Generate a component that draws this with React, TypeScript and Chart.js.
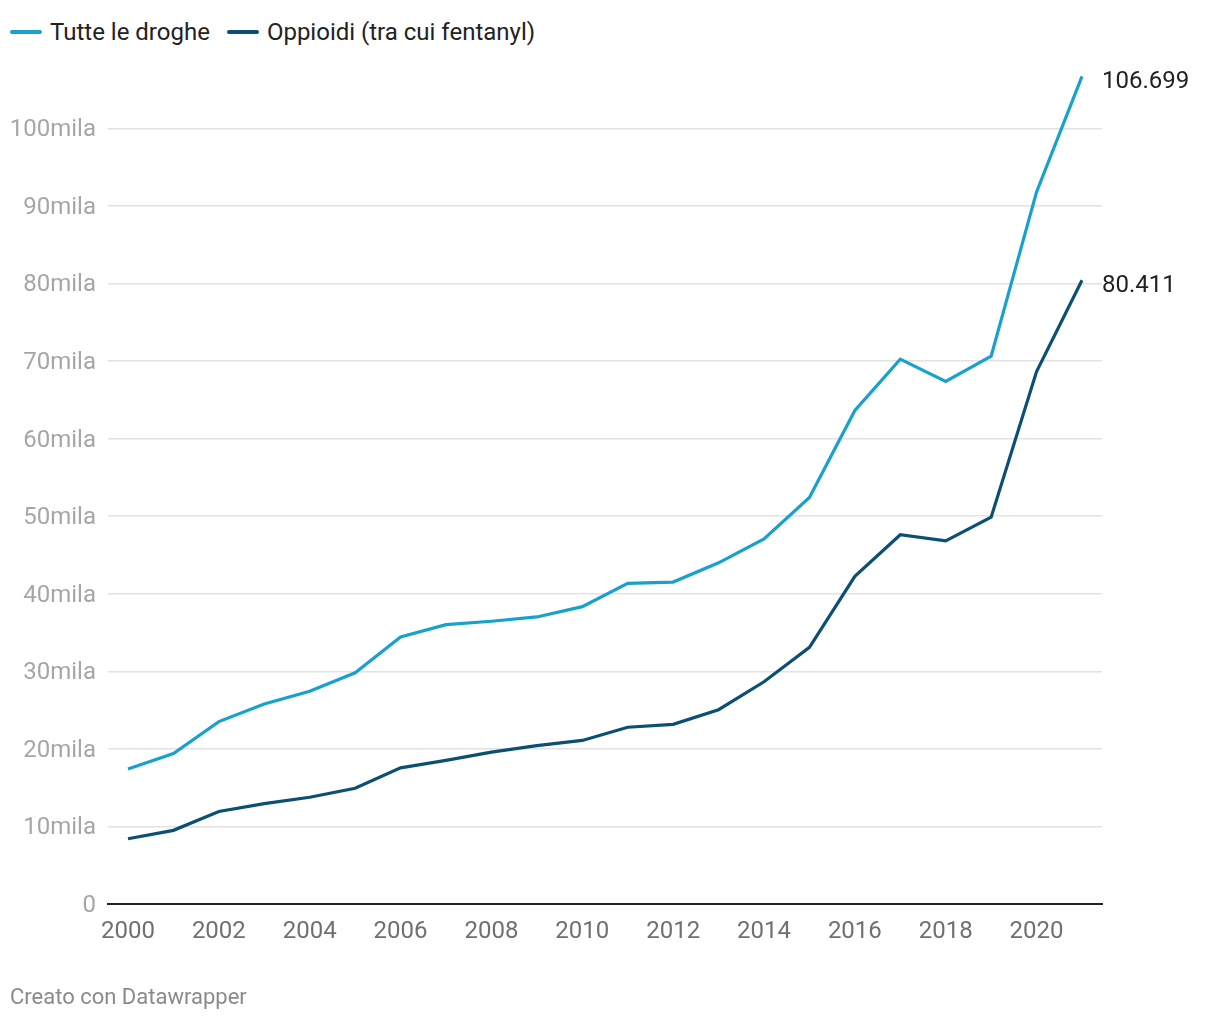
import React, { useEffect, useRef } from "react";
import { Chart, registerables } from "chart.js";

Chart.register(...registerables);

const years = [2000, 2001, 2002, 2003, 2004, 2005, 2006, 2007, 2008, 2009, 2010, 2011, 2012, 2013, 2014, 2015, 2016, 2017, 2018, 2019, 2020, 2021];
const allDrugs = [17.415, 19.394, 23.518, 25.785, 27.424, 29.813, 34.425, 36.01, 36.45, 37.004, 38.329, 41.34, 41.502, 43.982, 47.055, 52.404, 63.632, 70.237, 67.367, 70.63, 91.799, 106.699];
const opioids = [8.407, 9.496, 11.92, 12.94, 13.756, 14.918, 17.545, 18.516, 19.582, 20.422, 21.089, 22.784, 23.166, 25.052, 28.647, 33.091, 42.249, 47.6, 46.802, 49.86, 68.63, 80.411];
const seriesNames = ["Tutte le droghe", "Oppioidi (tra cui fentanyl)"];
const seriesColors = ["#18a1cd", "#0b4f72"];
const endLabels = ["106.699", "80.411"];
const xTicks = [2000, 2002, 2004, 2006, 2008, 2010, 2012, 2014, 2016, 2018, 2020];
const yTicks = [0, 10, 20, 30, 40, 50, 60, 70, 80, 90, 100];

const FONT = "Roboto, 'Noto Sans', sans-serif";

export default function App() {
  const ref = useRef<HTMLCanvasElement>(null);

  useEffect(() => {
    if (!ref.current) return;
    const endLabelPlugin = {
      id: "endLabels",
      afterDatasetsDraw(chart: any) {
        const ctx = chart.ctx;
        ctx.save();
        ctx.font = `24px ${FONT}`;
        ctx.fillStyle = "#222";
        ctx.textBaseline = "middle";
        ctx.textAlign = "left";
        chart.data.datasets.forEach((ds: any, i: number) => {
          const meta = chart.getDatasetMeta(i);
          const pt = meta.data[meta.data.length - 1];
          ctx.fillText(endLabels[i], pt.x + 20, pt.y + 6);
        });
        ctx.restore();
      },
    };

    const chart = new Chart(ref.current, {
      type: "line",
      data: {
        datasets: [
          {
            label: seriesNames[0],
            data: years.map((y, i) => ({ x: y, y: allDrugs[i] })),
            borderColor: seriesColors[0],
            borderWidth: 3.2,
            pointRadius: 0,
            tension: 0,
          },
          {
            label: seriesNames[1],
            data: years.map((y, i) => ({ x: y, y: opioids[i] })),
            borderColor: seriesColors[1],
            borderWidth: 3.2,
            pointRadius: 0,
            tension: 0,
          },
        ],
      },
      options: {
        responsive: false,
        animation: false,
        layout: { padding: { left: 0, right: 118, top: 74, bottom: 0 } },
        plugins: { legend: { display: false }, tooltip: { enabled: false } },
        scales: {
          x: {
            type: "linear",
            min: 2000 - 20 / 45.43,
            max: 2021 + 20 / 45.43,
            afterBuildTicks: (s: any) => {
              s.ticks = xTicks.map((v) => ({ value: v }));
            },
            afterFit: (s: any) => {
              s.height = 116;
            },
            grid: { display: false, drawTicks: false },
            border: { display: true, color: "#222", width: 2 },
            ticks: {
              padding: 14,
              color: "#707070",
              font: { family: FONT, size: 24 },
              maxRotation: 0,
              autoSkip: false,
              callback: (v: any) => String(v),
            },
          },
          y: {
            min: 0,
            max: 107,
            afterBuildTicks: (s: any) => {
              s.ticks = yTicks.map((v) => ({ value: v }));
            },
            afterFit: (s: any) => {
              s.width = 108;
            },
            grid: {
              color: (c: any) => (c.tick && c.tick.value === 0 ? "rgba(0,0,0,0)" : "#e2e2e2"),
              lineWidth: 1.5,
              drawTicks: false,
            },
            border: { display: false },
            ticks: {
              padding: 12,
              labelOffset: 2,
              color: "#a6a6a6",
              font: { family: FONT, size: 24 },
              callback: (v: any) => (v === 0 ? "0" : `${v}mila`),
            },
          },
        },
      },
      plugins: [endLabelPlugin],
    });
    return () => chart.destroy();
  }, []);

  return (
    <div style={{ position: "absolute", left: 0, top: 0, width: 1220, height: 1020, background: "#fff", fontFamily: FONT }}>
      <div style={{ position: "absolute", left: 10, top: 17, height: 30, display: "flex", alignItems: "center", fontSize: 24, color: "#222", whiteSpace: "nowrap" }}>
        {seriesNames.map((n, i) => (
          <div key={n} style={{ display: "flex", alignItems: "center", marginRight: 17 }}>
            <span style={{ display: "inline-block", width: 32, height: 4, borderRadius: 2, background: seriesColors[i], marginRight: 8 }} />
            <span>{n}</span>
          </div>
        ))}
      </div>
      <canvas ref={ref} width={1220} height={1020} style={{ position: "absolute", left: 0, top: 0 }} />
      <div style={{ position: "absolute", left: 10, top: 983, fontSize: 22, color: "#8a8a8a", lineHeight: "28px" }}>Creato con Datawrapper</div>
    </div>
  );
}
